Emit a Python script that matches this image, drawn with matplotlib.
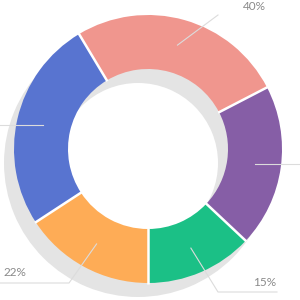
import numpy as np
import matplotlib
matplotlib.use('Agg')
from matplotlib import pyplot as plt
from matplotlib.patches import Wedge

# slices, counter-clockwise from the bottom
names = ['green', 'purple', 'salmon', 'blue', 'orange']
values = [13.0, 19.6, 26.0, 25.6, 15.8]
colors = ['#1bc086', '#865ea6', '#f0968e', '#5874d0', '#feac56']
labels = ['15%', '', '40%', '', '22%']

# leader line waypoints (pixel coords, y down); None = keep previous y
leaders = [
    [(218, 292), (277, 292)],
    [(300, None)],
    [(218, 15)],
    [(0, None)],
    [(69, 283), (0, 283)],
]
label_pos = [(276, 283, 'right'), None, (254, 6, 'center'), None, (3, 272, 'left')]

H = 300
fig = plt.figure(figsize=(3, 3), dpi=100)
ax = fig.add_axes([0, 0, 1, 1])
ax.set_xlim(0, 300)
ax.set_ylim(0, H)
ax.axis('off')

cx, cy = 148, H - 149
r_out, r_in = 134, 80

# shadow ring
ax.add_patch(Wedge((cx - 10, cy - 14), r_out, 0, 360, width=r_out - r_in,
                   color='#e4e4e4', lw=0))

frac = np.array(values) / sum(values)
edges = -90 + 360 * np.concatenate([[0], np.cumsum(frac)])
for i, c in enumerate(colors):
    ax.add_patch(Wedge((cx, cy), r_out, edges[i], edges[i + 1],
                       width=r_out - r_in, color=c, lw=0))

# white gaps between slices
for a in edges[:-1]:
    t = np.radians(a)
    ax.plot([cx + (r_in - 1) * np.cos(t), cx + (r_out + 1) * np.cos(t)],
            [cy + (r_in - 1) * np.sin(t), cy + (r_out + 1) * np.sin(t)],
            color='white', lw=1.8, solid_capstyle='butt')

# leader lines and labels
for i in range(len(values)):
    mid = np.radians((edges[i] + edges[i + 1]) / 2)
    xs = [cx + 108 * np.cos(mid)]
    ys = [cy + 108 * np.sin(mid)]
    for px, py in leaders[i]:
        xs.append(px)
        ys.append(ys[-1] if py is None else H - py)
    ax.plot(xs, ys, color='#dcdcdc', lw=0.8)
    if label_pos[i]:
        lx, ly, ha = label_pos[i]
        ax.text(lx, H - ly, labels[i], ha=ha, va='center', fontsize=8.5,
                color='#8a8a8a', family='Lato')

fig.savefig('out.png', dpi=100)
